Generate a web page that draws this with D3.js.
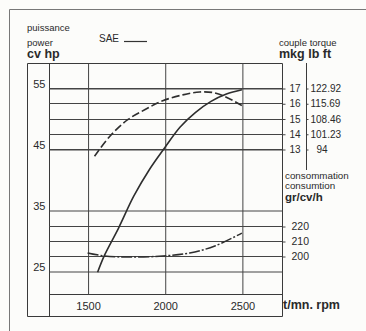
<!DOCTYPE html>
<html>
<head>
<meta charset="utf-8">
<script src="https://cdn.jsdelivr.net/npm/d3@7"></script>
<style>
  body { margin: 0; background: #fcfcfa; }
  svg { display: block; font-family: "Liberation Sans", Arial, sans-serif; }
  .grid line { stroke: #444; stroke-width: 1; }
  text { fill: #2a2a2a; }
</style>
</head>
<body>
<svg id="chart" width="366" height="331"></svg>
<script>
// axis ticks
const rpmTicks = [1500, 2000, 2500];
const hpTicks = [55, 45, 35, 25];
const torqueTicks = [17, 16, 15, 14, 13];
const lbftLabels = ["122.92", "115.69", "108.46", "101.23", "94"];
const consTicks = [220, 210, 200];

// power (hp) - solid
const powerRpm = [1565, 1610, 1700, 1800, 1900, 2000, 2100, 2200, 2300, 2400, 2500];
const powerHp = [24.8, 27.6, 32.0, 37.3, 41.6, 45.2, 48.6, 51.0, 52.8, 54.0, 54.7];

// torque (mkg) - dashed
const torqueRpm = [1545, 1643, 1760, 1870, 1987, 2117, 2227, 2325, 2409, 2500];
const torqueMkg = [12.52, 13.82, 14.92, 15.57, 16.16, 16.55, 16.74, 16.68, 16.35, 15.85];

// consumption (gr/cv/h) - dash dot
const consRpm = [1500, 1610, 1773, 1987, 2162, 2325, 2500];
const consVal = [202, 200, 199.3, 200, 202, 206.7, 215.3];

const svg = d3.select("#chart");

const pLeft = 49, pRight = 282, pTop = 63, pBottom = 294;

const x = d3.scaleLinear().domain([1250, 2760]).range([pLeft, pRight]);
const yHp = d3.scaleLinear().domain([55, 25]).range([88, 271]);
const yTq = d3.scaleLinear().domain([17, 13]).range([88, 149]);
const yCons = d3.scaleLinear().domain([220, 200]).range([226, 256]);

// outer page frame
svg.append("path")
  .attr("d", "M9.5,331 V9.5 H366")
  .attr("fill", "none").attr("stroke", "#777").attr("stroke-width", 1);

// box around chart
const box = svg.append("g").attr("stroke", "#3a3a3a").attr("fill", "none");
box.append("path").attr("d", `M27.5,${pTop + 0.5} H${pRight + 0.5} V316.5 H27.5 Z`);
box.append("line").attr("x1", pLeft + 0.5).attr("x2", pLeft + 0.5).attr("y1", pTop).attr("y2", 317);
box.append("line").attr("x1", pLeft).attr("x2", pRight).attr("y1", pBottom + 0.5).attr("y2", pBottom + 0.5);
box.append("line").attr("x1", 306.5).attr("x2", 306.5).attr("y1", pTop).attr("y2", 170);

// vertical grid + rpm labels
const xAxis = svg.append("g")
  .attr("class", "grid")
  .attr("transform", `translate(0.5,${pBottom + 0.5})`)
  .call(d3.axisBottom(x).tickValues(rpmTicks).tickFormat(d3.format("d"))
    .tickSizeInner(-(pBottom - pTop)).tickSizeOuter(0).tickPadding(8));
xAxis.select(".domain").remove();
xAxis.selectAll("text").attr("font-size", 11).attr("fill", "#2a2a2a");

// hp grid lines and labels
const hpAxis = svg.append("g")
  .attr("class", "grid")
  .attr("transform", `translate(${pLeft + 0.5},0.5)`)
  .call(d3.axisLeft(yHp).tickValues(hpTicks).tickFormat(d3.format("d"))
    .tickSizeInner(-(pRight - pLeft)).tickSizeOuter(0).tickPadding(4));
hpAxis.select(".domain").remove();
hpAxis.selectAll("text").attr("font-size", 11).attr("dy", "-0.1em").attr("fill", "#2a2a2a");

// torque grid lines
svg.append("g").attr("class", "grid")
  .selectAll("line").data(torqueTicks).join("line")
  .attr("x1", pLeft).attr("x2", pRight)
  .attr("y1", d => Math.round(yTq(d)) + 0.5).attr("y2", d => Math.round(yTq(d)) + 0.5);

// consumption grid lines
svg.append("g").attr("class", "grid")
  .selectAll("line").data(consTicks).join("line")
  .attr("x1", pLeft).attr("x2", pRight)
  .attr("y1", d => Math.round(yCons(d)) + 0.5).attr("y2", d => Math.round(yCons(d)) + 0.5);

// mkg axis
const tqAxis = svg.append("g")
  .attr("transform", `translate(${pRight + 0.5},0.5)`)
  .call(d3.axisRight(yTq).tickValues(torqueTicks).tickFormat(d3.format("d")).tickSize(3).tickPadding(4));
tqAxis.select(".domain").remove();
tqAxis.selectAll("line").attr("stroke", "#444");
tqAxis.selectAll("text").attr("font-size", 10).attr("fill", "#2a2a2a");

// lb ft axis
const lbAxis = svg.append("g")
  .attr("transform", "translate(306.5,0.5)")
  .call(d3.axisRight(yTq).tickValues(torqueTicks).tickSize(2).tickPadding(2)
    .tickFormat((d, i) => lbftLabels[i]));
lbAxis.select(".domain").remove();
lbAxis.selectAll("line").attr("stroke", "#444");
lbAxis.selectAll("text").attr("font-size", 10).attr("fill", "#2a2a2a")
  .attr("dx", (d, i) => lbftLabels[i].length < 4 ? 6 : 0);

// consumption axis
const cAxis = svg.append("g")
  .attr("transform", `translate(${pRight + 0.5},0.5)`)
  .call(d3.axisRight(yCons).tickValues(consTicks).tickFormat(d3.format("d")).tickSize(3).tickPadding(6));
cAxis.select(".domain").remove();
cAxis.selectAll("line").attr("stroke", "#444");
cAxis.selectAll("text").attr("font-size", 10.5).attr("fill", "#2a2a2a");

// curves
const curve = d3.curveCatmullRom.alpha(0.5);

const powerLine = d3.line().x(d => x(d[0])).y(d => yHp(d[1])).curve(curve);
svg.append("path")
  .datum(d3.zip(powerRpm, powerHp))
  .attr("d", powerLine)
  .attr("fill", "none").attr("stroke", "#2e2e2e").attr("stroke-width", 1.6);

const torqueLine = d3.line().x(d => x(d[0])).y(d => yTq(d[1])).curve(curve);
svg.append("path")
  .datum(d3.zip(torqueRpm, torqueMkg))
  .attr("d", torqueLine)
  .attr("fill", "none").attr("stroke", "#2e2e2e").attr("stroke-width", 1.6)
  .attr("stroke-dasharray", "8,3");

const consLine = d3.line().x(d => x(d[0])).y(d => yCons(d[1])).curve(curve);
svg.append("path")
  .datum(d3.zip(consRpm, consVal))
  .attr("d", consLine)
  .attr("fill", "none").attr("stroke", "#2e2e2e").attr("stroke-width", 1.5)
  .attr("stroke-dasharray", "11,2,2,2");

// header texts
const txt = (s, tx, ty, size, weight) => svg.append("text")
  .attr("x", tx).attr("y", ty).attr("font-size", size)
  .attr("font-weight", weight || "normal").text(s);

txt("puissance", 27, 31, 9.5);
txt("power", 27, 46, 9.5);
txt("cv hp", 27, 58, 12.5, "bold");
txt("SAE", 99, 42, 10);
svg.append("line").attr("x1", 124).attr("x2", 147).attr("y1", 41.5).attr("y2", 41.5)
  .attr("stroke", "#333").attr("stroke-width", 1.2);

txt("couple torque", 279, 46, 9.5);
txt("mkg lb ft", 279, 58, 12.5, "bold");

txt("consommation", 285, 179, 9.8);
txt("consumtion", 285, 189, 9.8);
txt("gr/cv/h", 285, 201, 11.5, "bold");

txt("t/mn. rpm", 283, 309, 12.5, "bold");
</script>
</body>
</html>
